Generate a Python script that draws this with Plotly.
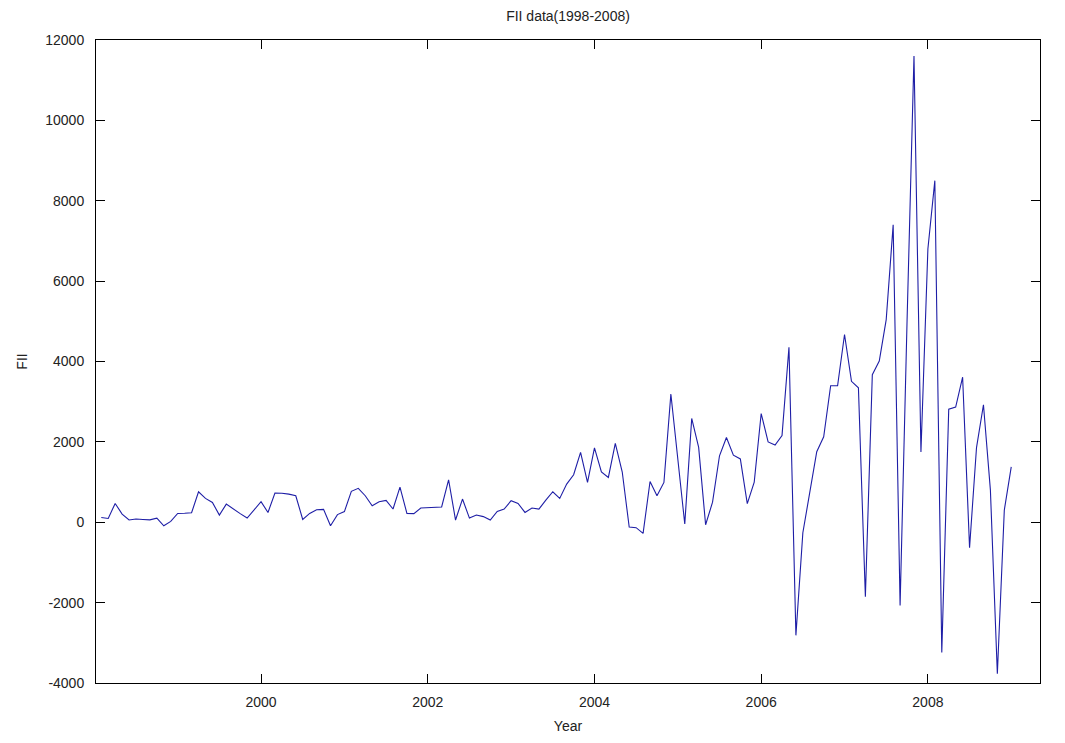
import plotly.graph_objects as go

# Monthly FII flows, Jan 1998 .. Dec 2008 (plotted at year + month/12)
start_year = 1998
fii = [
    120, 95, 468, 204, 55, 80, 70, 60, 100, -87, 20, 219,            # 1998
    225, 236, 759, 593, 493, 178, 452, 326, 214, 105, 300, 510,      # 1999
    244, 726, 720, 700, 660, 70, 219, 310, 320, -87, 190, 265,       # 2000
    770, 845, 660, 410, 510, 545, 330, 875, 219, 215, 353, 360,      # 2001
    370, 380, 1057, 55, 577, 104, 179, 140, 55, 269, 328, 535,       # 2002
    468, 244, 353, 328, 552, 759, 593, 950, 1182, 1737, 990, 1850,   # 2003
    1250, 1115, 1961, 1250, -120, -135, -278, 1015, 660, 990, 3190, 1500,  # 2004
    -45, 2583, 1861, -62, 500, 1654, 2110, 1670, 1575, 465, 1000, 2705,    # 2005
    2000, 1920, 2160, 4354, -2814, -261, 796, 1754, 2127, 3396, 3396, 4672,  # 2006
    3506, 3346, -1854, 3670, 4010, 5043, 7400, -2070, 5000, 11600, 1750, 6800,  # 2007
    8500, -3240, 2814, 2866, 3610, -634, 1858, 2923, 800, -3770, 300, 1380,  # 2008
]
years = [start_year + (i + 1) / 12 for i in range(len(fii))]

x_ticks = [2000, 2002, 2004, 2006, 2008]
y_ticks = [-4000, -2000, 0, 2000, 4000, 6000, 8000, 10000, 12000]

font_family = "Liberation Sans Narrow, Arial Narrow, Liberation Sans, Arial"

fig = go.Figure(
    go.Scatter(
        x=years,
        y=fii,
        mode="lines",
        line=dict(color="#1e1ea6", width=1.1),
        hoverinfo="x+y",
    )
)

axis_common = dict(
    showgrid=False,
    zeroline=False,
    showline=True,
    linecolor="#000000",
    linewidth=1,
    mirror="allticks",
    ticks="inside",
    ticklen=9,
    tickwidth=1,
    tickcolor="#000000",
    tickfont=dict(family=font_family, size=14, color="#222222"),
)

fig.update_layout(
    width=1065,
    height=743,
    paper_bgcolor="#ffffff",
    plot_bgcolor="#ffffff",
    margin=dict(l=96, r=25, t=40, b=60),
    showlegend=False,
    title=dict(
        text="FII data(1998-2008)",
        x=0.5,
        xref="paper",
        xanchor="center",
        y=1,
        yref="container",
        yanchor="top",
        pad=dict(t=11),
        font=dict(family=font_family, size=14, color="#222222"),
    ),
    xaxis=dict(
        axis_common,
        range=[1998.02, 2009.345],
        tickmode="array",
        tickvals=x_ticks,
        ticktext=[str(v) for v in x_ticks],
        ticklabelstandoff=6,
        title=dict(text="Year", standoff=12,
                   font=dict(family=font_family, size=14, color="#222222")),
    ),
    yaxis=dict(
        axis_common,
        range=[-4000, 12000],
        tickmode="array",
        tickvals=y_ticks,
        ticktext=[str(v) for v in y_ticks],
        ticklabelstandoff=8,
        title=dict(text="FII", standoff=14,
                   font=dict(family=font_family, size=14, color="#222222")),
    ),
)

fig.write_html("out.html")
